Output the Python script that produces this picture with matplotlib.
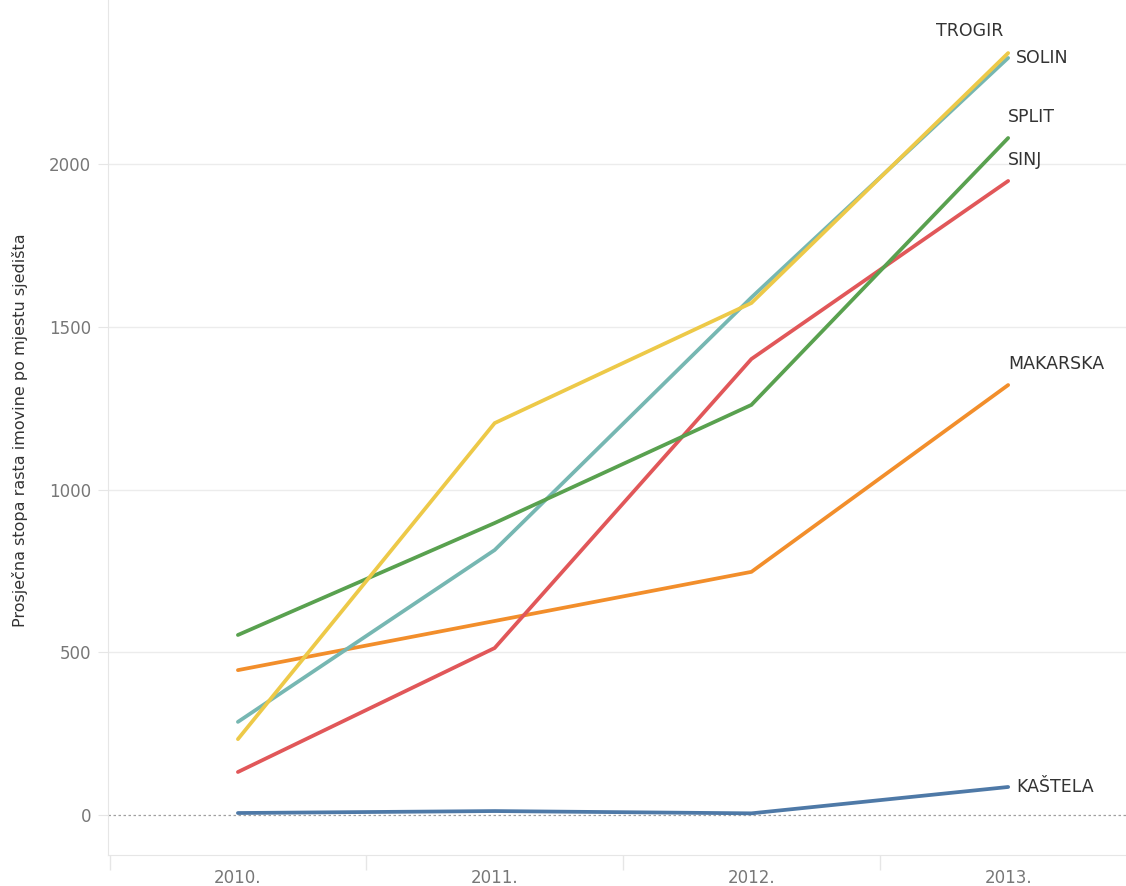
import matplotlib
matplotlib.use("Agg")
import matplotlib.pyplot as plt

years = ["2010.", "2011.", "2012.", "2013."]
kastela = [6, 12, 5, 86]
makarska = [445, 596, 747, 1321]
sinj = [132, 513, 1401, 1948]
solin = [286, 814, 1590, 2326]
split = [553, 897, 1260, 2080]
trogir = [233, 1204, 1573, 2341]

series = [
    ("KAŠTELA", kastela, "#4e79a7"),
    ("MAKARSKA", makarska, "#f28e2b"),
    ("SINJ", sinj, "#e15759"),
    ("SOLIN", solin, "#76b7b2"),
    ("SPLIT", split, "#59a14f"),
    ("TROGIR", trogir, "#edc948"),
]

fig = plt.figure(figsize=(11.26, 8.86), dpi=100)
ax = fig.add_axes([108/1126, 31/886, 1 - 108/1126, 855/886])
x = list(range(len(years)))

ax.set_xlim(-0.506, 3.459)
ax.set_ylim(-123, 2504)

for yv in [500, 1000, 1500, 2000]:
    ax.axhline(yv, color="#ececec", lw=1, zorder=0)
ax.axhline(0, color="#a0a0a0", lw=0.9, ls=(0, (2, 2)), zorder=0)

for name, vals, col in series:
    ax.plot(x, vals, color=col, lw=2.7, solid_capstyle="round", solid_joinstyle="miter", zorder=3)

# labels at line ends
lab_pos = {
    "TROGIR": (-0.02, 2408, "right"),
    "SOLIN": (0.03, 2326, "left"),
    "SPLIT": (0.0, 2146, "left"),
    "SINJ": (0.0, 2012, "left"),
    "MAKARSKA": (0.0, 1385, "left"),
    "KAŠTELA": (0.03, 86, "left"),
}
for name, vals, col in series:
    dx, yy, ha = lab_pos[name]
    ax.text(x[-1] + dx, yy, name, ha=ha, va="center", fontsize=12.5, color="#333333")

ax.set_xticks(x)
ax.set_xticklabels(years)
ax.set_xticks([-0.5, 0.5, 1.5, 2.5], minor=True)
ax.tick_params(axis="x", which="major", length=0, pad=10, labelsize=12, labelcolor="#777777")
ax.tick_params(axis="x", which="minor", length=11, color="#e6e6e6", width=1)
ax.set_yticks([0, 500, 1000, 1500, 2000])
ax.tick_params(axis="y", length=7, color="#e6e6e6", labelsize=12, labelcolor="#777777", pad=5)

for s in ["top", "right"]:
    ax.spines[s].set_visible(False)
ax.spines["left"].set_color("#e6e6e6")
ax.spines["bottom"].set_color("#e6e6e6")

fig.text(20/1126, 1 - 430/886, "Prosječna stopa rasta imovine po mjestu sjedišta",
         rotation=90, ha="center", va="center", fontsize=11.5, color="#333333")

fig.savefig("out.png", dpi=100)
